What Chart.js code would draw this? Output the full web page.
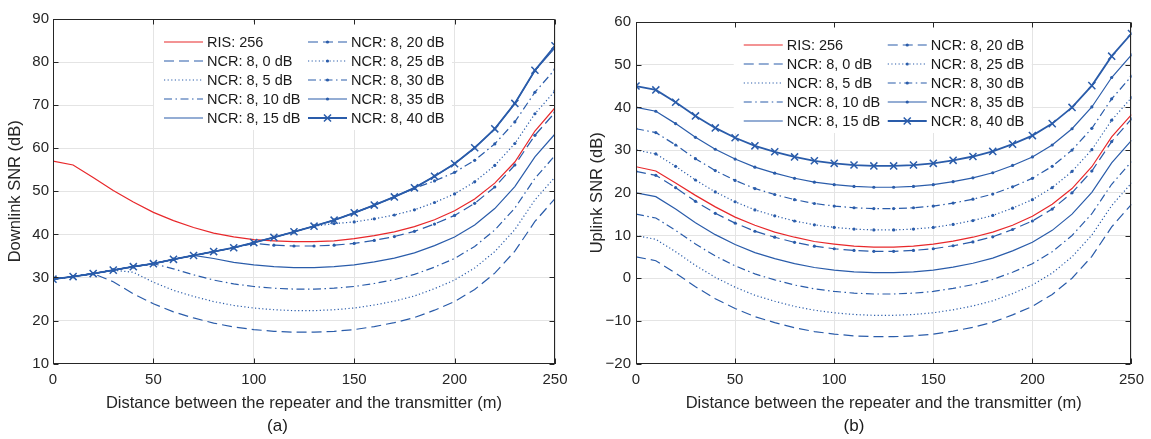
<!DOCTYPE html>
<html>
<head>
<meta charset="utf-8">
<script src="https://cdn.jsdelivr.net/npm/chart.js@4"></script>
<style>
  html, body { margin: 0; padding: 0; background: #fff; }
  #wrap { position: relative; width: 1151px; height: 439px; }
  canvas { position: absolute; top: 0; }
</style>
</head>
<body>
<div id="wrap">
  <canvas id="chart-downlink" width="575" height="439" style="left:0"></canvas>
  <canvas id="chart-uplink" width="576" height="439" style="left:575px"></canvas>
</div>
<script>
const distance = [0, 10, 20, 30, 40, 50, 60, 70, 80, 90, 100, 110, 120, 130, 140, 150, 160, 170, 180, 190, 200, 210, 220, 230, 240, 250];

const seriesLabels = [
  "RIS: 256", "NCR: 8, 0 dB", "NCR: 8, 5 dB", "NCR: 8, 10 dB", "NCR: 8, 15 dB",
  "NCR: 8, 20 dB", "NCR: 8, 25 dB", "NCR: 8, 30 dB", "NCR: 8, 35 dB", "NCR: 8, 40 dB",
];

// (a) downlink SNR, dB
const dlRis   = [57.0, 56.1, 53.2, 50.2, 47.5, 45.1, 43.2, 41.6, 40.3, 39.4, 38.8, 38.5, 38.3, 38.3, 38.5, 39.0, 39.7, 40.6, 41.8, 43.4, 45.5, 48.2, 51.9, 56.8, 64.0, 69.4];
const dlNcr0  = [29.6, 30.2, 30.9, 29.0, 26.2, 23.9, 22.0, 20.6, 19.4, 18.5, 17.9, 17.5, 17.3, 17.3, 17.5, 17.9, 18.6, 19.5, 20.7, 22.4, 24.4, 27.2, 31.0, 36.1, 43.0, 48.3];
const dlNcr5  = [29.6, 30.2, 30.9, 31.7, 31.2, 28.9, 27.0, 25.6, 24.4, 23.5, 22.9, 22.5, 22.3, 22.3, 22.5, 22.9, 23.6, 24.5, 25.7, 27.4, 29.4, 32.2, 36.0, 41.1, 48.0, 53.3];
const dlNcr10 = [29.6, 30.2, 30.9, 31.7, 32.5, 33.2, 32.0, 30.6, 29.4, 28.5, 27.9, 27.5, 27.3, 27.3, 27.5, 27.9, 28.6, 29.5, 30.7, 32.4, 34.4, 37.2, 41.0, 46.1, 53.0, 58.3];
const dlNcr15 = [29.6, 30.2, 30.9, 31.7, 32.5, 33.2, 34.2, 35.1, 34.4, 33.5, 32.9, 32.5, 32.3, 32.3, 32.5, 32.9, 33.6, 34.5, 35.7, 37.4, 39.4, 42.2, 46.0, 51.1, 58.0, 63.3];
const dlNcr20 = [29.6, 30.2, 30.9, 31.7, 32.5, 33.2, 34.2, 35.1, 36.0, 36.9, 37.9, 37.5, 37.3, 37.3, 37.5, 37.9, 38.6, 39.5, 40.7, 42.4, 44.4, 47.2, 51.0, 56.1, 63.0, 68.3];
const dlNcr25 = [29.6, 30.2, 30.9, 31.7, 32.5, 33.2, 34.2, 35.1, 36.0, 36.9, 38.1, 39.3, 40.6, 41.9, 42.5, 42.9, 43.6, 44.5, 45.7, 47.4, 49.4, 52.2, 56.0, 61.1, 68.0, 73.3];
const dlNcr30 = [29.6, 30.2, 30.9, 31.7, 32.5, 33.2, 34.2, 35.1, 36.0, 36.9, 38.1, 39.3, 40.6, 41.9, 43.3, 45.0, 46.8, 48.7, 50.7, 52.4, 54.4, 57.2, 61.0, 66.1, 73.0, 78.3];
const dlNcr35 = [29.6, 30.2, 30.9, 31.7, 32.5, 33.2, 34.2, 35.1, 36.0, 36.9, 38.1, 39.3, 40.6, 41.9, 43.3, 45.0, 46.8, 48.7, 50.8, 53.5, 56.4, 60.1, 64.5, 70.4, 78.0, 83.3];
const dlNcr40 = [29.6, 30.2, 30.9, 31.7, 32.5, 33.2, 34.2, 35.1, 36.0, 36.9, 38.1, 39.3, 40.6, 41.9, 43.3, 45.0, 46.8, 48.7, 50.8, 53.5, 56.4, 60.1, 64.5, 70.4, 78.1, 83.8];

// (b) uplink SNR, dB
const ulRis   = [26.1, 25.1, 22.3, 19.4, 16.7, 14.3, 12.4, 10.8, 9.6, 8.6, 8.0, 7.5, 7.3, 7.3, 7.5, 8.0, 8.7, 9.6, 10.8, 12.4, 14.5, 17.3, 21.0, 26.1, 33.1, 38.3];
const ulNcr0  = [5.0, 4.1, 1.2, -2.0, -4.8, -7.1, -9.0, -10.4, -11.6, -12.5, -13.1, -13.5, -13.7, -13.7, -13.5, -13.1, -12.4, -11.5, -10.3, -8.6, -6.6, -3.8, 0.0, 5.1, 12.0, 17.3];
const ulNcr5  = [10.0, 9.1, 6.2, 3.0, 0.2, -2.1, -4.0, -5.4, -6.6, -7.5, -8.1, -8.5, -8.7, -8.7, -8.5, -8.1, -7.4, -6.5, -5.3, -3.6, -1.6, 1.2, 5.0, 10.1, 17.0, 22.3];
const ulNcr10 = [15.0, 14.1, 11.2, 8.0, 5.2, 2.9, 1.0, -0.4, -1.6, -2.5, -3.1, -3.5, -3.7, -3.7, -3.5, -3.1, -2.4, -1.5, -0.3, 1.4, 3.4, 6.2, 10.0, 15.1, 22.0, 27.3];
const ulNcr15 = [20.0, 19.1, 16.2, 13.0, 10.2, 7.9, 6.0, 4.6, 3.4, 2.5, 1.9, 1.5, 1.3, 1.3, 1.5, 1.9, 2.6, 3.5, 4.7, 6.4, 8.4, 11.2, 15.0, 20.1, 27.0, 32.3];
const ulNcr20 = [25.0, 24.1, 21.2, 18.0, 15.2, 12.9, 11.0, 9.6, 8.4, 7.5, 6.9, 6.5, 6.3, 6.3, 6.5, 6.9, 7.6, 8.5, 9.7, 11.4, 13.4, 16.2, 20.0, 25.1, 32.0, 37.3];
const ulNcr25 = [30.0, 29.1, 26.2, 23.0, 20.2, 17.9, 16.0, 14.6, 13.4, 12.5, 11.9, 11.5, 11.3, 11.3, 11.5, 11.9, 12.6, 13.5, 14.7, 16.4, 18.4, 21.2, 25.0, 30.1, 37.0, 42.3];
const ulNcr30 = [35.0, 34.1, 31.2, 28.0, 25.2, 22.9, 21.0, 19.6, 18.4, 17.5, 16.9, 16.5, 16.3, 16.3, 16.5, 16.9, 17.6, 18.5, 19.7, 21.4, 23.4, 26.2, 30.0, 35.1, 42.0, 47.3];
const ulNcr35 = [40.0, 39.1, 36.2, 33.0, 30.2, 27.9, 26.0, 24.6, 23.4, 22.5, 21.9, 21.5, 21.3, 21.3, 21.5, 21.9, 22.6, 23.5, 24.7, 26.4, 28.4, 31.2, 35.0, 40.1, 47.0, 52.3];
const ulNcr40 = [45.0, 44.1, 41.2, 38.0, 35.2, 32.9, 31.0, 29.6, 28.4, 27.5, 26.9, 26.5, 26.3, 26.3, 26.5, 26.9, 27.6, 28.5, 29.7, 31.4, 33.4, 36.2, 40.0, 45.1, 52.0, 57.3];

const FONT = "'Liberation Sans', Arial, Helvetica, sans-serif";
const INK = "#262626";
const BLUE = "#2a5caa";
const RED = "#e8282b";
const DASH = [10, 5];
const DOT = [1.2, 2.4];
const DASHDOT = [8, 3.5, 1.5, 3.5];

const lineStyles = [
  { color: RED,  dash: [],      width: 1.2, marker: null },
  { color: BLUE, dash: DASH,    width: 1.2, marker: null },
  { color: BLUE, dash: DOT,     width: 1.2, marker: null },
  { color: BLUE, dash: DASHDOT, width: 1.2, marker: null },
  { color: BLUE, dash: [],      width: 1.2, marker: null },
  { color: BLUE, dash: DASH,    width: 1.2, marker: "dot" },
  { color: BLUE, dash: DOT,     width: 1.2, marker: "dot" },
  { color: BLUE, dash: DASHDOT, width: 1.2, marker: "dot" },
  { color: BLUE, dash: [],      width: 1.2, marker: "dot" },
  { color: BLUE, dash: [],      width: 1.8, marker: "x" },
];

function buildDatasets(series) {
  return series.map((ys, i) => {
    const s = lineStyles[i];
    return {
      label: seriesLabels[i],
      data: ys.map((y, k) => ({ x: distance[k], y })),
      borderColor: s.color,
      backgroundColor: s.color,
      borderWidth: s.width,
      borderDash: s.dash,
      pointRadius: s.marker === "x" ? 5 : s.marker === "dot" ? 1.6 : 0,
      pointStyle: s.marker === "x" ? "crossRot" : "circle",
      pointBorderWidth: s.marker === "x" ? 1.5 : 0,
      pointBackgroundColor: s.color,
      pointBorderColor: s.color,
      pointHoverRadius: 0,
      tension: 0,
      fill: false,
      order: series.length - i,
    };
  });
}

// frame with inward ticks, like the original axes box
const axesBox = {
  id: "axesBox",
  afterDatasetsDraw(chart) {
    const { ctx, chartArea: a, scales: { x, y } } = chart;
    const L = Math.round(a.left) + 0.5, R = Math.round(a.right) - 0.5;
    const T = Math.round(a.top) + 0.5, B = Math.round(a.bottom) - 0.5;
    ctx.save();
    ctx.strokeStyle = INK;
    ctx.lineWidth = 1;
    ctx.setLineDash([]);
    ctx.beginPath();
    ctx.rect(L, T, R - L, B - T);
    for (const t of x.ticks) {
      const px = Math.round(x.getPixelForValue(t.value)) + 0.5;
      ctx.moveTo(px, B); ctx.lineTo(px, B - 5);
      ctx.moveTo(px, T); ctx.lineTo(px, T + 5);
    }
    for (const t of y.ticks) {
      const py = Math.round(y.getPixelForValue(t.value)) + 0.5;
      ctx.moveTo(L, py); ctx.lineTo(L + 5, py);
      ctx.moveTo(R, py); ctx.lineTo(R - 5, py);
    }
    ctx.stroke();
    ctx.restore();
  },
};

// two-column legend inside the plot, top centre
const boxLegend = {
  id: "boxLegend",
  beforeDatasetsDraw(chart) {
    const { ctx, chartArea: a } = chart;
    const cx = (a.left + a.right) / 2;
    ctx.save();
    ctx.fillStyle = "#fff";
    ctx.fillRect(cx - 150, a.top + 3, 298, 108);
    ctx.restore();
  },
  afterDatasetsDraw(chart) {
    const { ctx, chartArea: a } = chart;
    const cx = (a.left + a.right) / 2;
    ctx.save();
    ctx.font = "14.5px " + FONT;
    ctx.textBaseline = "middle";
    chart.data.datasets.forEach((ds, i) => {
      const x0 = i < 5 ? cx - 140 : cx + 4;
      const yy = a.top + 23 + (i % 5) * 19;
      ctx.strokeStyle = ds.borderColor;
      ctx.lineWidth = ds.borderWidth;
      ctx.setLineDash(ds.borderDash);
      ctx.beginPath();
      ctx.moveTo(x0, yy);
      ctx.lineTo(x0 + 39, yy);
      ctx.stroke();
      ctx.setLineDash([]);
      const mx = x0 + 19.5;
      if (ds.pointStyle === "crossRot" && ds.pointRadius > 0) {
        const r = ds.pointRadius * 0.707;
        ctx.lineWidth = ds.pointBorderWidth;
        ctx.beginPath();
        ctx.moveTo(mx - r, yy - r); ctx.lineTo(mx + r, yy + r);
        ctx.moveTo(mx - r, yy + r); ctx.lineTo(mx + r, yy - r);
        ctx.stroke();
      } else if (ds.pointRadius > 0) {
        ctx.fillStyle = ds.borderColor;
        ctx.beginPath();
        ctx.arc(mx, yy, ds.pointRadius, 0, Math.PI * 2);
        ctx.fill();
      }
      ctx.fillStyle = "#1a1a1a";
      ctx.fillText(ds.label, x0 + 43, yy + 0.5);
    });
    ctx.restore();
  },
};

function makeChart(id, series, opts) {
  return new Chart(document.getElementById(id), {
    type: "line",
    data: { datasets: buildDatasets(series) },
    plugins: [boxLegend, axesBox],
    options: {
      responsive: false,
      animation: false,
      events: [],
      layout: { padding: opts.padding },
      plugins: {
        legend: { display: false },
        tooltip: { enabled: false },
        subtitle: {
          display: true,
          position: "bottom",
          text: opts.caption,
          color: "#1a1a1a",
          font: { family: FONT, size: 17, weight: "normal" },
          padding: { top: 1, bottom: 2 },
        },
      },
      scales: {
        x: {
          type: "linear",
          min: 0,
          max: 250,
          afterFit: (s) => { s.height = 52; },
          grid: { color: "#e4e4e4", drawTicks: false },
          border: { color: INK },
          ticks: {
            stepSize: 50,
            maxRotation: 0,
            padding: 7,
            color: INK,
            font: { family: FONT, size: 15 },
          },
          title: {
            display: true,
            text: "Distance between the repeater and the transmitter (m)",
            color: INK,
            font: { family: FONT, size: 16.5 },
            padding: { top: 0, bottom: 2 },
          },
        },
        y: {
          min: opts.yMin,
          max: opts.yMax,
          afterFit: (s) => { s.width = opts.yWidth; },
          grid: { color: "#e4e4e4", drawTicks: false },
          border: { color: INK },
          ticks: {
            stepSize: 10,
            padding: opts.tickPad,
            color: INK,
            font: { family: FONT, size: 15 },
            callback: (v) => String(v).replace("-", "\u2212"),
          },
          title: {
            display: true,
            text: opts.yTitle,
            color: INK,
            font: { family: FONT, size: 16.5 },
            padding: { top: opts.titlePad, bottom: 0 },
          },
        },
      },
    },
  });
}

makeChart("chart-downlink",
  [dlRis, dlNcr0, dlNcr5, dlNcr10, dlNcr15, dlNcr20, dlNcr25, dlNcr30, dlNcr35, dlNcr40],
  { yMin: 10, yMax: 90, yTitle: "Downlink SNR (dB)", caption: "(a)", yWidth: 53, tickPad: 4, titlePad: 5.5,
    padding: { left: 0, right: 20, top: 19, bottom: 0 } });

makeChart("chart-uplink",
  [ulRis, ulNcr0, ulNcr5, ulNcr10, ulNcr15, ulNcr20, ulNcr25, ulNcr30, ulNcr35, ulNcr40],
  { yMin: -20, yMax: 60, yTitle: "Uplink SNR (dB)", caption: "(b)", yWidth: 61, tickPad: 5, titlePad: 13,
    padding: { left: 0, right: 18, top: 22, bottom: 0 } });
</script>
</body>
</html>
